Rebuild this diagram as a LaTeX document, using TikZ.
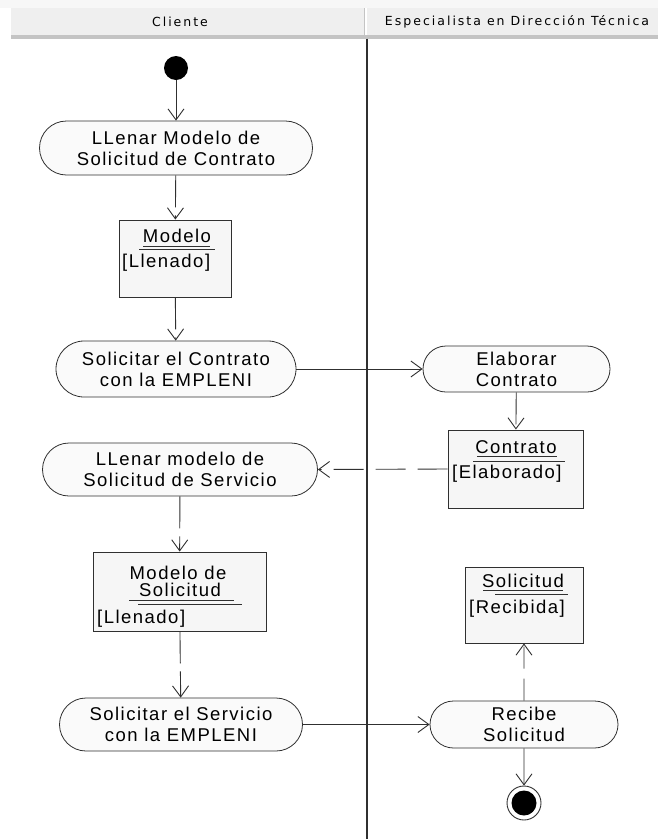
\documentclass[tikz,border=0pt]{standalone}
\usepackage{fontspec}
\setmainfont{Liberation Sans}[LetterSpace=8]
\newfontfamily\headfont{DejaVu Sans}[LetterSpace=16]
\usetikzlibrary{arrows.meta,shapes.misc}

\definecolor{ln}{HTML}{303030}
\definecolor{actfill}{HTML}{FAFAFA}
\definecolor{objfill}{HTML}{F6F6F6}
\definecolor{hdrfill}{HTML}{EFEFEF}
\definecolor{hdrtop}{HTML}{F7F7F7}
\definecolor{hdredge}{HTML}{C4C4C4}

\tikzset{
  acttext/.style={font=\fontsize{18.5}{21}\selectfont, text=black},
  act/.style={rounded rectangle, draw=ln, fill=actfill, line width=0.8pt,
              align=center, inner sep=0pt, acttext},
  objbox/.style={rectangle, draw=ln, fill=objfill, line width=0.9pt, inner sep=0pt},
  objtext/.style={acttext, inner sep=0pt, anchor=base},
  objstate/.style={acttext, inner sep=0pt, anchor=base west},
  sepline/.style={draw=ln, line width=0.8pt},
  flow/.style={draw=ln, line width=0.9pt,
               -{Straight Barb[length=11pt,width=16pt,line width=0.9pt]}},
  objflow/.style={flow, dash pattern=on 32pt off 8pt},
  headtext/.style={font=\headfont\fontsize{12.5}{14}\selectfont, text=black},
}

\begin{document}
\begin{tikzpicture}[x=1pt,y=-1pt]
\useasboundingbox (0,0) rectangle (658,839);
\fill[white] (0,0) rectangle (658,839);

% swimlane header band
\fill[hdrtop] (0,0) rectangle (658,8);
\fill[hdrfill] (11,8) rectangle (658,35);
\fill[hdredge] (11,34.5) rectangle (658,38.5);
\draw[white, line width=1.5pt] (366,8) -- (366,34.5);
\draw[hdredge, line width=0.8pt] (364,8) -- (364,34.5);
\node[headtext] (hcli) at (180,22) {Cliente};
\node[headtext] (hesp) at (517,22) {Especialista en Dirección Técnica};

% lane divider
\coordinate (laneTop) at (367,38.5);
\coordinate (laneBot) at (367,839);
\draw[ln, line width=1.3pt] (laneTop) -- (laneBot);

% ---- Cliente lane ----
\node[circle, fill=black, inner sep=0pt, minimum size=24pt] (start) at (176,68) {};

\node[act, minimum width=273pt, minimum height=54pt] (a1) at (176,148)
  {LLenar Modelo de\\Solicitud de Contrato};

\node[objbox, minimum width=112pt, minimum height=77pt] (o1) at (175,258.5) {};
\node[objtext] (o1n) at (177,242) {Modelo};
\draw[sepline] (143,246) -- (210,246);
\draw[sepline] (139,249) -- (215,249);
\node[objstate] (o1s) at (122,267) {[Llenado]};

\node[act, minimum width=240pt, minimum height=56pt] (a2) at (176,369)
  {Solicitar el Contrato\\con la EMPLENI};

\node[act, minimum width=275pt, minimum height=53pt] (a3) at (180,469.5)
  {LLenar modelo de\\Solicitud de Servicio};

\node[objbox, minimum width=173pt, minimum height=79pt] (o2) at (179.5,591.5) {};
\node[objtext] (o2a) at (178,579) {Modelo de};
\node[objtext] (o2b) at (180,596.5) {Solicitud};
\draw[sepline] (129,600) -- (234,600);
\draw[sepline] (138,604) -- (242,604);
\node[objstate] (o2s) at (97,623) {[Llenado]};

\node[act, minimum width=243pt, minimum height=53pt] (a4) at (181,724.5)
  {Solicitar el Servicio\\con la EMPLENI};

% ---- Especialista lane ----
\node[act, minimum width=187pt, minimum height=46pt] (b1) at (516.5,369)
  {Elaborar\\Contrato};

\node[objbox, minimum width=135pt, minimum height=78pt] (p1) at (515.5,469) {};
\node[objtext] (p1n) at (516,453) {Contrato};
\draw[sepline] (477,456.5) -- (557,456.5);
\draw[sepline] (473,461) -- (565,461);
\node[objstate] (p1s) at (452,478) {[Elaborado]};

\node[objbox, minimum width=118pt, minimum height=76pt] (p2) at (524,605) {};
\node[objtext] (p2n) at (523,587) {Solicitud};
\draw[sepline] (483,590) -- (563,590);
\draw[sepline] (495,594) -- (568,594);
\node[objstate] (p2s) at (469,613) {[Recibida]};

\node[act, minimum width=188pt, minimum height=47pt] (b2) at (524,724.5)
  {Recibe\\Solicitud};

\node[circle, draw=ln, line width=0.9pt, fill=white, inner sep=0pt, minimum size=34pt] (stop) at (524,803) {};
\fill[black] (stop.center) circle (12.5pt);

% ---- transitions ----
\draw[flow] (start) -- (a1);
\draw[objflow] (a1) -- (o1);
\draw[objflow] (o1) -- (a2);
\draw[flow] (a2.east) -- (b1.west);
\draw[objflow] (b1) -- (p1);
\draw[objflow, dash pattern=on 30pt off 12pt] (p1.west) -- (a3.east);
\draw[objflow] (a3) -- (o2);
\draw[objflow] (o2) -- (a4);
\draw[flow] (a4.east) -- (b2.west);
\draw[objflow, dash pattern=on 22pt off 10pt] (b2) -- (p2);
\draw[flow] (b2) -- (stop);
\end{tikzpicture}
\end{document}
